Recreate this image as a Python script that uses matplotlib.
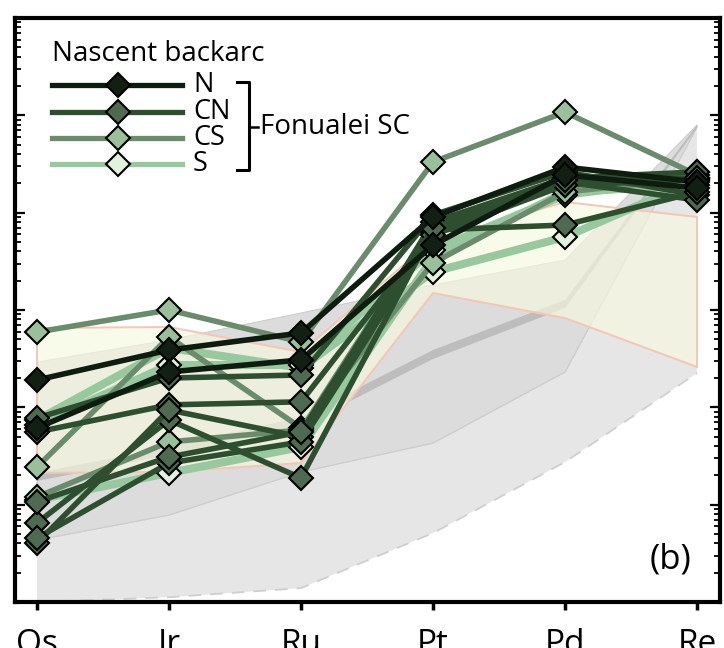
import numpy as np
import matplotlib.pyplot as plt

plt.rcParams['font.family'] = ['Open Sans', 'DejaVu Sans']

elements = ['Os', 'Ir', 'Ru', 'Pt', 'Pd', 'Re']

# background fields (upper / lower envelopes)
field_light_top = [4.34e-5, 7.83e-5, 2.17e-4, 4.30e-4, 0.00231, 0.759]
field_light_bot = [1.0e-5, 1.12e-5, 1.39e-5, 5.11e-5, 2.74e-4, 0.00225]
field_mid_top = [0.00292, 0.00492, 0.00931, 0.0181, 0.0326, 0.796]
band_top = [2.12e-4, 3.91e-4, 7.95e-4, 0.00388, 0.01267, 0.796]
band_bot = [1.75e-4, 3.24e-4, 6.43e-4, 0.00314, 0.01048, 0.741]
yellow_top = [0.00653, 0.00669, 0.00370, 0.0524, 0.1287, 0.0902]
yellow_bot = [2.12e-4, 2.17e-4, 2.68e-4, 0.01495, 0.00827, 0.00260]

# Fonualei SC samples
N_samples = [
    [0.00191, 0.00388, 0.00581, 0.0902, 0.294, 0.207],
    [0.000614, 0.00231, 0.00307, 0.0465, 0.244, 0.179],
]
CN_samples = [
    [0.000777, 0.00200, 0.00215, 0.0946, 0.262, 0.152],
    [0.000558, 0.00106, 0.00114, 0.0633, 0.207, 0.135],
    [6.48e-5, 0.000741, 0.000188, 0.0663, 0.0747, 0.163],
    [4.04e-5, 0.000939, 0.000496, 0.0802, 0.227, 0.262],
    [4.55e-5, 0.000268, 0.000441, 0.0589, 0.192, 0.217],
    [0.000107, 0.000309, 0.000558, 0.0696, 0.217, 0.227],
]
CS_samples = [
    [0.00594, 0.0100, 0.00469, 0.332, 1.08, 0.244],
    [0.000244, 0.00528, 0.000614, 0.0304, 0.163, 0.227],
    [0.000120, 0.000441, 0.000585, 0.0747, 0.192, 0.262],
]
S_samples = [
    [0.000741, 0.00407, 0.00254, 0.0246, 0.0562, 0.217],
    [0.000112, 0.000212, 0.000391, 0.0342, 0.163, 0.192],
    [0.000659, 0.00272, 0.00272, 0.0413, 0.152, 0.227],
]

groups = ['N', 'CN', 'CS', 'S']
line_cols = {'N': '#0e1b0f', 'CN': '#2d4f2f', 'CS': '#6a8c6d', 'S': '#97c89e'}
fill_cols = {'N': '#112012', 'CN': '#4e6a50', 'CS': '#99bf9b', 'S': '#e2f0de'}
widths = {'N': 4.0, 'CN': 4.0, 'CS': 4.0, 'S': 5.8}

fig = plt.figure(figsize=(7.24, 6.48), dpi=100)
ax = fig.add_axes([15/724, 46/648, 705/724, 584/648])
x = np.arange(len(elements))

# fields
ax.fill(np.r_[x, x[::-1]], np.r_[field_light_top, field_light_bot[::-1]],
        color='#e6e6e6', lw=0, zorder=1)
ax.plot(x, field_light_bot, color='#cfcfcf', lw=1.3, ls=(0, (7, 5)), zorder=1)
ax.plot(x, field_light_top, color='#cfcfcf', lw=1.0, zorder=1)
ax.fill(np.r_[x, x[::-1]], np.r_[field_mid_top, field_light_top[::-1]],
        color='#dcdcdc', ec='#cdcdcd', lw=0.8, zorder=1)
ax.fill(np.r_[x, x[::-1]], np.r_[band_top, band_bot[::-1]],
        color='#bdbdbd', lw=0, zorder=1)
ax.fill(np.r_[x, x[::-1]], np.r_[yellow_top, yellow_bot[::-1]],
        fc='#f7f9e0', alpha=0.65, lw=0, zorder=2)
ax.fill(np.r_[x, x[::-1]], np.r_[yellow_top, yellow_bot[::-1]],
        fc='none', ec='#f4c6b4', lw=1.4, zorder=2)

data = {'N': N_samples, 'CN': CN_samples, 'CS': CS_samples, 'S': S_samples}
z = 3
for g in ['S', 'CS', 'CN', 'N']:
    for s in data[g]:
        ax.plot(x, s, '-', color=line_cols[g], lw=widths[g], marker='D', ms=12.5,
                mfc=fill_cols[g], mec='k', mew=1.5, zorder=z)
        z += 1

ax.set_yscale('log')
ax.set_ylim(1e-5, 10)
ax.set_xlim(-0.167, 5.174)
ax.set_xticks(x)
ax.set_xticklabels(elements, fontsize=24)
ax.tick_params(axis='x', direction='out', length=6, width=2.5, pad=13, top=False)
ax.tick_params(axis='y', which='major', direction='in', length=7, width=1.6,
               left=True, right=True, labelleft=False)
ax.tick_params(axis='y', which='minor', direction='in', length=4.5, width=1.3,
               left=True, right=True, labelleft=False)
for sp in ax.spines.values():
    sp.set_linewidth(3)

# legend drawn by hand
ax.text(0.0525, 0.926, 'Nascent backarc', transform=ax.transAxes, fontsize=20,
        va='baseline', ha='left')
leg_y = [0.885, 0.839, 0.795, 0.750]
for g, yy in zip(groups, leg_y):
    ax.plot([0.0525, 0.237], [yy, yy], color=line_cols[g], lw=3.8,
            transform=ax.transAxes, clip_on=False, zorder=30)
    ax.plot([0.146], [yy], marker='D', ms=12.5, mfc=fill_cols[g], mec='k', mew=1.5,
            transform=ax.transAxes, zorder=31)
    ax.text(0.2525, yy, g, transform=ax.transAxes, fontsize=19.5, va='center', ha='left')
ax.plot([0.315, 0.332, 0.332, 0.315], [0.890, 0.890, 0.740, 0.740], color='k', lw=2.2,
        transform=ax.transAxes, zorder=30)
ax.plot([0.332, 0.345], [0.813, 0.813], color='k', lw=1.8, transform=ax.transAxes, zorder=30)
ax.text(0.348, 0.813, 'Fonualei SC', transform=ax.transAxes, fontsize=20,
        va='center', ha='left')
ax.text(0.960, 0.072, '(b)', transform=ax.transAxes, fontsize=25, va='center', ha='right')

fig.savefig('out.png', dpi=100)
